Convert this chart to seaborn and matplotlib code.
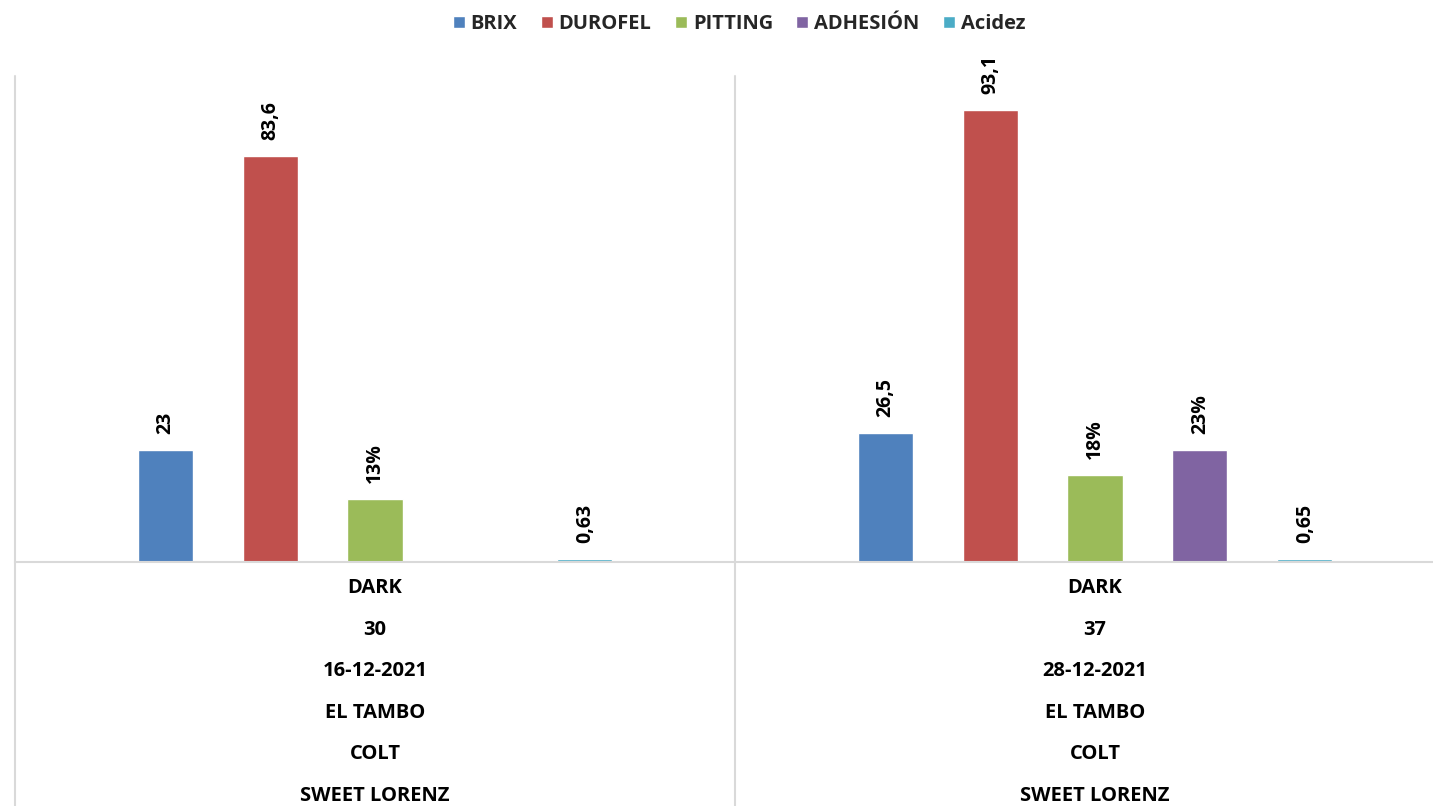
import matplotlib
matplotlib.use("Agg")
import matplotlib.pyplot as plt
import pandas as pd
import numpy as np
import seaborn as sns

# Datos del grafico
grupos = ["G1", "G2"]
filas_categoria = [
    ["DARK", "30", "16-12-2021", "EL TAMBO", "COLT", "SWEET LORENZ"],
    ["DARK", "37", "28-12-2021", "EL TAMBO", "COLT", "SWEET LORENZ"],
]
series = ["BRIX", "DUROFEL", "PITTING", "ADHESIÓN", "Acidez"]
brix = [23, 26.5]
durofel = [83.6, 93.1]
pitting = [13, 18]          # porcentaje
adhesion = [np.nan, 23]     # porcentaje
acidez = [0.63, 0.65]
es_porcentaje = {"BRIX": False, "DUROFEL": False, "PITTING": True, "ADHESIÓN": True, "Acidez": False}
colores = ["#4F81BD", "#C0504D", "#9BBB59", "#8064A2", "#4BACC6"]

valores = {"BRIX": brix, "DUROFEL": durofel, "PITTING": pitting, "ADHESIÓN": adhesion, "Acidez": acidez}
rows = []
for s in series:
    for g, v in zip(grupos, valores[s]):
        rows.append({"grupo": g, "serie": s, "valor": v})
df = pd.DataFrame(rows)


def etiqueta(v, pct):
    if pct:
        return f"{v:.0f}%"
    return f"{v:g}".replace(".", ",")


sns.set_theme(style="white")
plt.rcParams["font.family"] = ["Open Sans", "DejaVu Sans"]

W, H = 1433, 806
fig = plt.figure(figsize=(W / 100, H / 100), dpi=100)
ax = fig.add_axes([15 / W, 1 - 562 / H, 1440 / W, 486 / H])

sns.barplot(data=df.dropna(), x="grupo", y="valor", hue="serie", order=grupos,
            hue_order=series, palette=colores, width=0.729, gap=0.476,
            saturation=1, legend=True, ax=ax)

ax.set_xlim(-0.5, 1.5)
ax.set_ylim(0, 100)
ax.set_xlabel("")
ax.set_ylabel("")
ax.set_yticks([])
ax.set_xticks([])
for sp in ["top", "right", "left"]:
    ax.spines[sp].set_visible(False)
ax.spines["bottom"].set_color("#d9d9d9")
ax.spines["bottom"].set_linewidth(1.5)

# etiquetas de datos
for cont, s in zip(ax.containers, series):
    vals = [v for v in valores[s] if not np.isnan(v)]
    labs = [etiqueta(v, es_porcentaje[s]) for v in vals]
    ax.bar_label(cont, labels=labs, rotation=90, padding=11.5, fontsize=14,
                 fontweight="bold", color="black")

# separadores verticales del eje de categorias
for xv in [-0.5, 0.5, 1.5]:
    ax.plot([xv, xv], [-0.51, 1.0], transform=ax.get_xaxis_transform(),
            color="#d9d9d9", lw=1.5, clip_on=False)

# etiquetas multinivel
offsets = [26, 68, 109, 151, 192, 234]
for i, filas in enumerate(filas_categoria):
    for txt, off in zip(filas, offsets):
        ax.annotate(txt, xy=(i, 0), xycoords=("data", "axes fraction"),
                    xytext=(0, -off), textcoords="offset pixels",
                    ha="center", va="center", fontsize=14.5, fontweight="bold",
                    color="black", annotation_clip=False)

# leyenda
handles, labels = ax.get_legend_handles_labels()
ax.legend(handles, labels, loc="center", bbox_to_anchor=(739 / W, 1 - 24 / H),
          bbox_transform=fig.transFigure, ncol=5, frameon=False,
          handlelength=0.6, handleheight=0.6, handletextpad=0.3,
          columnspacing=1.15, prop={"weight": "bold", "size": 14.5})

fig.savefig("out.png", dpi=100)
